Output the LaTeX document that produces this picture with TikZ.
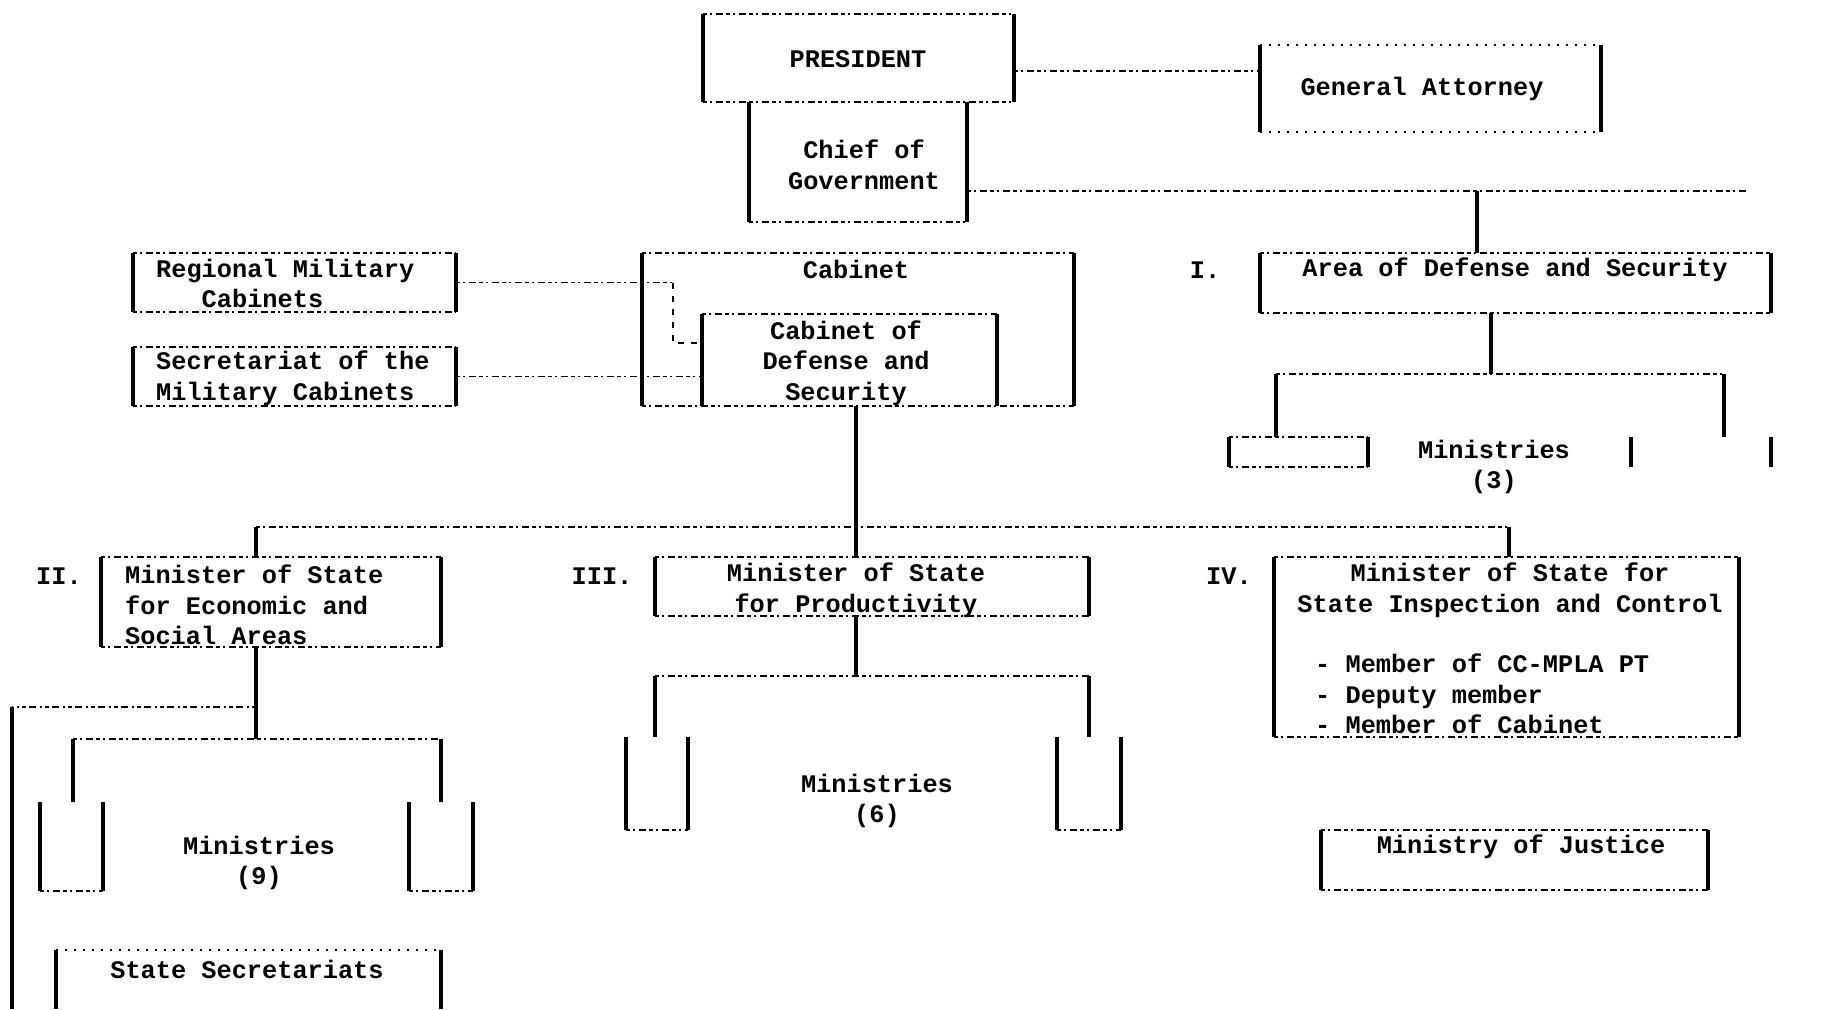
\documentclass[tikz,border=0pt]{standalone}
\usepackage{fontspec}
\setmonofont{Liberation Mono}
\usetikzlibrary{fit,calc}
\tikzset{
  bx/.style={inner sep=0pt, outer sep=0pt},
  side/.style={line width=3.4pt},
  conn/.style={line width=3.2pt},
  dots/.style={line width=1.6pt, dash pattern=on 4pt off 3pt on 2pt off 4pt on 7pt off 3pt},
  faint/.style={line width=1.2pt, dash pattern=on 2pt off 7pt},
  txt/.style={font=\ttfamily\bfseries\fontsize{25.3}{30.6}\selectfont, inner sep=0pt, align=center},
  txl/.style={txt, align=left, anchor=west},
}
\begin{document}
\begin{tikzpicture}[x=1pt,y=-1pt]
\useasboundingbox (0,0) rectangle (1844,1009);
\fill[white] (0,0) rectangle (1844,1009);
% boxes
\node[bx, fit={(703,14) (1014,102)}] (pres) {};
\node[bx, fit={(749,102) (967,222)}] (chief) {};
\node[bx, fit={(1260,45) (1601,132)}] (ga) {};
\node[bx, fit={(1260,253) (1771,313)}] (area) {};
\node[bx, fit={(1229,437) (1368,467)}] (m3l) {};
\node[bx, fit={(1631,437) (1771,467)}] (m3r) {};
\node[bx, fit={(133,253) (456,312)}] (reg) {};
\node[bx, fit={(133,347) (456,406)}] (sec) {};
\node[bx, fit={(642,253) (1074,406)}] (cab) {};
\node[bx, fit={(702,314) (997,406)}] (cabdef) {};
\node[bx, fit={(101,557) (441,647)}] (mII) {};
\node[bx, fit={(655,557) (1089,616)}] (mIII) {};
\node[bx, fit={(1274,557) (1739,737)}] (mIV) {};
\node[bx, fit={(626,737) (688,830)}] (m6l) {};
\node[bx, fit={(1057,737) (1121,830)}] (m6r) {};
\node[bx, fit={(40,802) (103,891)}] (m9l) {};
\node[bx, fit={(409,802) (473,891)}] (m9r) {};
\node[bx, fit={(56,950) (441,1009)}] (ss) {};
\node[bx, fit={(1321,830) (1708,890)}] (mj) {};
% texts
\node[txt] (tpres) at (858,59) {PRESIDENT};
\node[txt] (tchief) at (864,165) {Chief of\\Government};
\node[txt] (tga) at (1422,89) {General Attorney};
\node[txt] (tI) at (1205,270) {I.};
\node[txt] (tarea) at (1515,270) {Area of Defense and Security};
\node[txt] (tm3) at (1494,467) {Ministries\\(3)};
\node[txl] (treg) at (156,286) {Regional Military\\\phantom{Reg}Cabinets};
\node[txl] (tsec) at (156,378) {Secretariat of the\\Military Cabinets};
\node[txt] (tcab) at (856,269) {Cabinet};
\node[txt] (tcabdef) at (846,363) {Cabinet of\\Defense and\\Security};
\node[txt] (tII) at (59,576) {II.};
\node[txl] (tmII) at (125,605) {Minister of State\\for Economic and\\Social Areas};
\node[txt] (tIII) at (602,576) {III.};
\node[txt] (tmIII) at (856,590) {Minister of State\\for Productivity};
\node[txt] (tIV) at (1229,576) {IV.};
\node[txt] (tmIV) at (1510,590) {Minister of State for\\State Inspection and Control};
\node[txl] (tmIVl) at (1315,694) {- Member of CC-MPLA PT\\- Deputy member\\- Member of Cabinet};
\node[txt] (tm6) at (877,801) {Ministries\\(6)};
\node[txt] (tm9) at (259,863) {Ministries\\(9)};
\node[txt] (tss) at (247,969) {State Secretariats};
\node[txt] (tmj) at (1521,847) {Ministry of Justice};
% box edges
\foreach \nn in {pres,area,m3l,reg,sec,cab,mII,mIII,mIV,mj} {\draw[dots] (\nn.north west) -- (\nn.north east) (\nn.south west) -- (\nn.south east);}
\draw[faint] (ga.north west) -- (ga.north east) (ga.south west) -- (ga.south east);
\draw[dots] (chief.south west) -- (chief.south east);
\draw[dots] (cabdef.north west) -- (cabdef.north east);
\foreach \nn in {m6l,m6r,m9l,m9r} {\draw[dots] (\nn.south west) -- (\nn.south east);}
\draw[faint] (ss.north west) -- (ss.north east);
\foreach \nn in {pres,chief,ga,area,m3l,m3r,reg,sec,cab,cabdef,mII,mIII,mIV,m6l,m6r,m9l,m9r,ss,mj} {\draw[side] (\nn.north west) -- (\nn.south west) (\nn.north east) -- (\nn.south east);}
% connectors
\draw[dots] ([yshift=-57pt]pres.north east) coordinate (a1) -- (a1 -| ga.west);
\coordinate (j1) at (1477,191);
\coordinate (gend) at (1746,191);
\draw[dots] (chief.east |- j1) -- (gend);
\draw[conn] (j1) -- (j1 |- area.north);
\coordinate (b3) at (1491,374);
\coordinate (b3l) at (1276,374);
\coordinate (b3r) at (1724,374);
\draw[conn] (b3 |- area.south) -- (b3);
\draw[dots] (b3l) -- (b3r);
\draw[conn] (b3l) -- (b3l |- m3l.north);
\draw[conn] (b3r) -- (b3r |- m3r.north);
\coordinate (k) at (673,343);
\draw[dots] (reg.east) -- (reg.east -| k);
\draw[line width=1.6pt, dash pattern=on 6pt off 7pt] (reg.east -| k) -- (k) -- (k -| cabdef.west);
\draw[dots] (sec.east) -- (sec.east -| cabdef.west);
\coordinate (c1) at (856,527);
\coordinate (c2) at (256,527);
\coordinate (c4) at (1509,527);
\draw[conn] (c1 |- cabdef.south) -- (c1 |- mIII.north);
\draw[dots] (c2) -- (c4);
\draw[conn] (c2) -- (c2 |- mII.north);
\draw[conn] (c4) -- (c4 |- mIV.north);
\coordinate (d1) at (856,676);
\coordinate (d2) at (655,676);
\coordinate (d3) at (1089,676);
\draw[conn] (d1 |- mIII.south) -- (d1);
\draw[dots] (d2) -- (d3);
\draw[conn] (d2) -- (d2 |- m6l.north);
\draw[conn] (d3) -- (d3 |- m6r.north);
\coordinate (e1) at (256,739);
\coordinate (e2) at (73,739);
\coordinate (e3) at (441,739);
\draw[conn] (e1 |- mII.south) -- (e1);
\draw[dots] (e2) -- (e3);
\draw[conn] (e2) -- (e2 |- m9l.north);
\draw[conn] (e3) -- (e3 |- m9r.north);
\coordinate (f1) at (256,707);
\coordinate (f2) at (12,707);
\coordinate (f3) at (12,1009);
\draw[dots] (f1) -- (f2);
\draw[conn] (f2) -- (f3);
\end{tikzpicture}
\end{document}
